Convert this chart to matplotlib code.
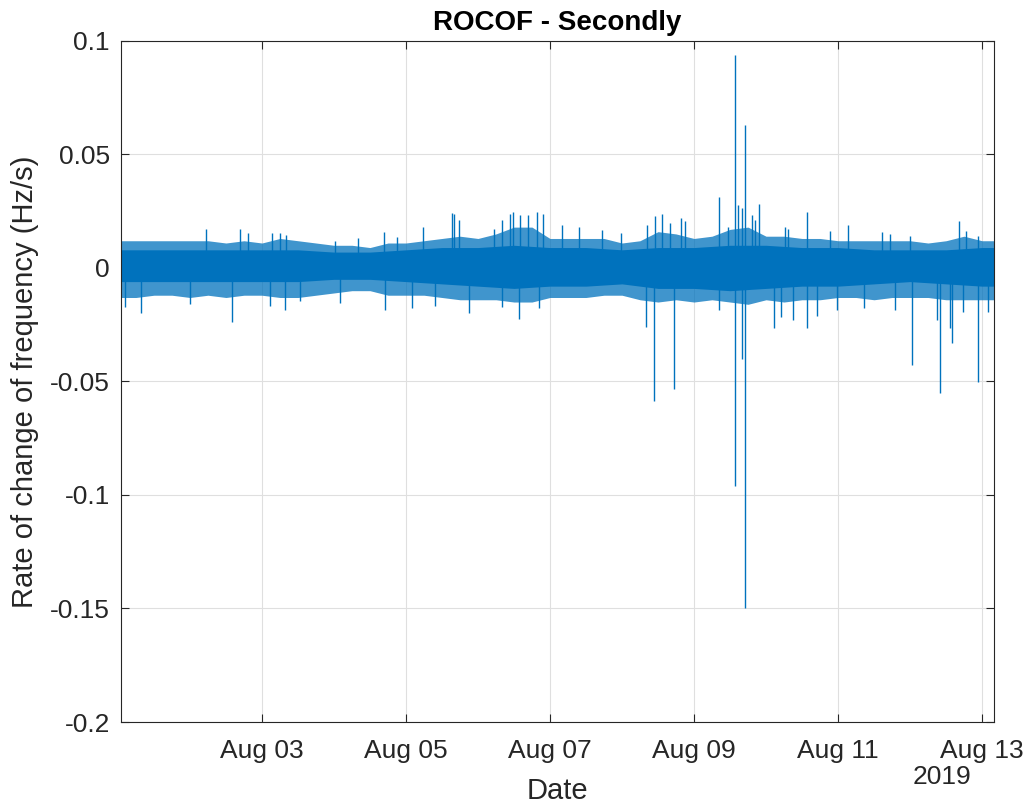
import numpy as np
import matplotlib
matplotlib.use('Agg')
import matplotlib.pyplot as plt
import matplotlib.dates as mdates

plt.rcParams['font.family'] = ['Liberation Sans', 'DejaVu Sans']

t0 = np.datetime64('2019-08-01T00:00')
t_start = np.datetime64('2019-08-01T01:00')
t_end = np.datetime64('2019-08-13T04:00')

# typical noise envelope, every 6 h (Hz/s)
fuzz_hours = np.arange(0, 300, 6)
fuzz_hi = [0.012, 0.012, 0.012, 0.012, 0.012, 0.012, 0.011, 0.012, 0.011, 0.013,
           0.012, 0.011, 0.010, 0.010, 0.009, 0.011, 0.011, 0.012, 0.013, 0.014,
           0.013, 0.015, 0.018, 0.018, 0.013, 0.013, 0.013, 0.013, 0.011, 0.012,
           0.016, 0.015, 0.013, 0.014, 0.017, 0.018, 0.014, 0.014, 0.013, 0.013,
           0.012, 0.012, 0.012, 0.012, 0.012, 0.011, 0.012, 0.014, 0.012, 0.012]
fuzz_lo = [-0.013, -0.013, -0.012, -0.012, -0.013, -0.012, -0.013, -0.012, -0.012, -0.013,
           -0.013, -0.012, -0.011, -0.010, -0.010, -0.012, -0.012, -0.012, -0.013, -0.014,
           -0.014, -0.014, -0.015, -0.015, -0.013, -0.013, -0.013, -0.012, -0.012, -0.014,
           -0.015, -0.014, -0.015, -0.014, -0.015, -0.016, -0.014, -0.015, -0.014, -0.014,
           -0.013, -0.013, -0.014, -0.013, -0.013, -0.013, -0.014, -0.014, -0.014, -0.014]

# dense core of the signal, every 12 h
core_hours = np.arange(0, 312, 12)
core_hi = [0.008, 0.008, 0.008, 0.008, 0.008, 0.008, 0.007, 0.007, 0.008, 0.009,
           0.009, 0.010, 0.009, 0.009, 0.008, 0.009, 0.009, 0.010, 0.010, 0.009,
           0.009, 0.008, 0.008, 0.008, 0.009, 0.009]
core_lo = [-0.006, -0.006, -0.006, -0.006, -0.006, -0.006, -0.005, -0.005, -0.006, -0.007,
           -0.008, -0.009, -0.008, -0.008, -0.007, -0.009, -0.009, -0.010, -0.009, -0.008,
           -0.008, -0.007, -0.006, -0.007, -0.008, -0.008]

# individual excursions: hours since Aug 01 00:00, ROCOF value
spike_hours = [29.2, 40.7, 43.3, 51.2, 54.0, 55.9, 72.3, 79.9, 88.8, 92.9,
               101.8, 111.4, 112.1, 113.7, 125.4, 127.9, 130.7, 131.8, 134.0, 136.8,
               139.6, 141.8, 148.1, 153.7, 161.2, 167.7, 176.2, 179.0, 181.4, 184.0,
               187.7, 189.0, 200.4, 203.4, 205.7, 206.6, 207.9, 209.0, 211.2, 212.3,
               213.8, 222.2, 223.4, 229.7, 237.3, 243.2, 254.8, 257.3, 264.0, 280.2,
               282.6, 286.6,
               2.3, 7.6, 24.0, 38.1, 50.7, 55.7, 60.7, 74.0, 89.0, 98.1,
               105.7, 117.0, 127.9, 133.8, 140.3, 176.1, 178.7, 185.3, 200.4, 205.7,
               208.1, 209.0, 218.5, 221.0, 225.1, 229.7, 232.9, 239.6, 248.8, 259.0,
               264.7, 272.9, 273.9, 277.3, 278.0, 281.8, 286.7, 290.1]
spike_vals = [0.0170, 0.0170, 0.0154, 0.0154, 0.0154, 0.0146, 0.0117, 0.0130, 0.0160, 0.0136,
              0.0180, 0.0241, 0.0237, 0.0211, 0.0173, 0.0210, 0.0238, 0.0248, 0.0233, 0.0233,
              0.0248, 0.0240, 0.0189, 0.0179, 0.0167, 0.0154, 0.0189, 0.0229, 0.0240, 0.0197,
              0.0219, 0.0205, 0.0313, 0.0182, 0.0939, 0.0278, 0.0263, 0.0631, 0.0233, 0.0211,
              0.0283, 0.0182, 0.0173, 0.0248, 0.0163, 0.0190, 0.0157, 0.0150, 0.0142, 0.0208,
              0.0163, 0.0140,
              -0.0170, -0.0197, -0.0160, -0.0236, -0.0167, -0.0183, -0.0147, -0.0156, -0.0185, -0.0178,
              -0.0167, -0.0197, -0.0170, -0.0226, -0.0178, -0.0260, -0.0584, -0.0535, -0.0185, -0.0960,
              -0.0401, -0.1498, -0.0266, -0.0214, -0.0229, -0.0266, -0.0210, -0.0185, -0.0178, -0.0185,
              -0.0427, -0.0229, -0.0549, -0.0266, -0.0329, -0.0192, -0.0501, -0.0192]


def to_time(hours):
    return t0 + (np.asarray(hours) * 60).round().astype('timedelta64[m]')


blue = '#0072BD'
fig = plt.figure(figsize=(10.32, 8.05), dpi=100)
ax = fig.add_axes([0.1172, 0.1031, 0.8460, 0.8460])

ax.fill_between(to_time(fuzz_hours), fuzz_lo, fuzz_hi, color=blue, alpha=0.75, lw=0)
ax.fill_between(to_time(core_hours), core_lo, core_hi, color=blue, lw=0)
ax.vlines(to_time(spike_hours), 0, spike_vals, color=blue, lw=1.0)

ax.set_xlim(t_start, t_end)
ax.set_ylim(-0.2, 0.1)
ax.set_yticks([-0.2, -0.15, -0.1, -0.05, 0, 0.05, 0.1])
ax.set_yticklabels(['-0.2', '-0.15', '-0.1', '-0.05', '0', '0.05', '0.1'])
ax.xaxis.set_major_locator(mdates.DayLocator(bymonthday=[3, 5, 7, 9, 11, 13]))
ax.xaxis.set_major_formatter(mdates.DateFormatter('%b %d'))

ax.grid(True, color='#dfdfdf', lw=0.8)
ax.set_axisbelow(True)
for s in ax.spines.values():
    s.set_color('#262626')
    s.set_linewidth(0.8)
ax.tick_params(direction='in', length=6, width=0.8, color='#262626',
               labelcolor='#262626', labelsize=19, top=True, right=True)
ax.tick_params(axis='x', pad=12)
ax.tick_params(axis='y', pad=8)

ax.set_title('ROCOF - Secondly', fontsize=20, fontweight='bold', color='black', pad=8)
ax.set_xlabel('Date', fontsize=21, color='#262626', labelpad=10)
ax.set_ylabel('Rate of change of frequency (Hz/s)', fontsize=21, color='#262626', labelpad=8)
ax.text(0.9737, -0.081, '2019', transform=ax.transAxes, ha='right', va='center',
        fontsize=19, color='#262626')

fig.savefig('out.png', dpi=100)
